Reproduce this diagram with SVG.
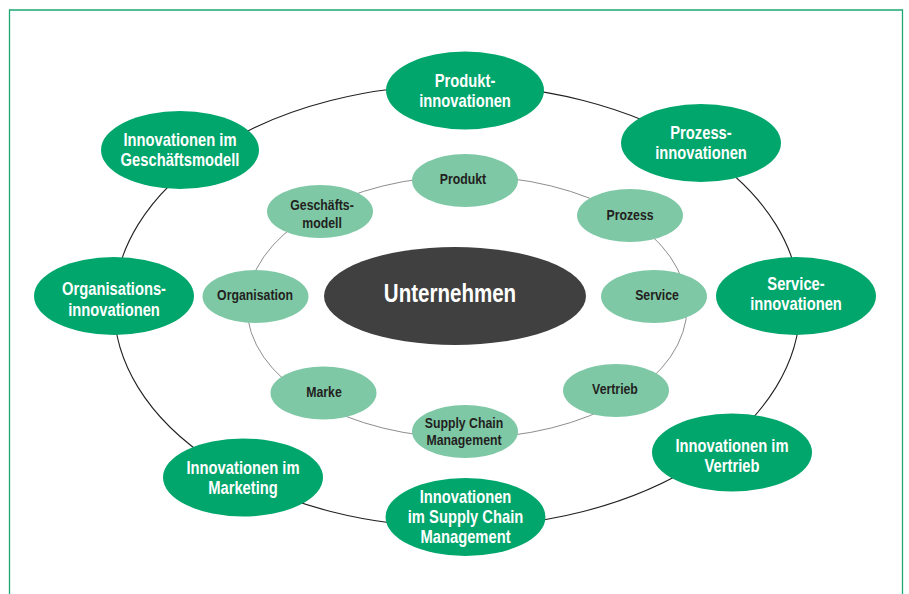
<svg xmlns="http://www.w3.org/2000/svg" width="909" height="594" viewBox="0 0 909 594">
  <style>
    .frame { fill: none; stroke: #1ea872; stroke-width: 1.3; }
    .ring-outer { fill: none; stroke: #231f20; stroke-width: 1.1; }
    .ring-inner { fill: none; stroke: #8e8e8e; stroke-width: 1; }
    .outer { fill: #00a66c; }
    .inner { fill: #7ec8a6; }
    .core { fill: #404040; }
    text { font-family: "Liberation Sans", Arial, sans-serif; font-weight: bold; text-anchor: middle; }
    .t-outer { fill: #ffffff; font-size: 18px; }
    .t-inner { fill: #231f20; font-size: 15px; }
    .t-core { fill: #ffffff; font-size: 26px; }
  </style>

  <!-- frame, open at the bottom -->
  <path class="frame" d="M9.5 594 V10 H902.5 V594"/>

  <!-- rings linking the nodes -->
  <g id="connectors">
    <ellipse class="ring-outer" cx="457" cy="306" rx="343" ry="221"/>
    <ellipse class="ring-inner" cx="467" cy="307" rx="220" ry="131"/>
  </g>

  <!-- centre; labels use a horizontally condensed bold face -->
  <g id="unternehmen">
    <ellipse class="core" cx="455" cy="296" rx="131" ry="49"/>
    <text class="t-core" transform="translate(450,302) scale(0.79,1)">Unternehmen</text>
  </g>

  <!-- inner ring -->
  <g id="produkt">
    <ellipse class="inner" cx="465" cy="180.5" rx="53" ry="26.5"/>
    <text class="t-inner" transform="translate(463,184) scale(0.82,1)">Produkt</text>
  </g>
  <g id="prozess">
    <ellipse class="inner" cx="630" cy="215.5" rx="53" ry="26.5"/>
    <text class="t-inner" transform="translate(630,220) scale(0.82,1)">Prozess</text>
  </g>
  <g id="service">
    <ellipse class="inner" cx="654" cy="296.5" rx="53" ry="26.5"/>
    <text class="t-inner" transform="translate(657,300) scale(0.82,1)">Service</text>
  </g>
  <g id="vertrieb">
    <ellipse class="inner" cx="616" cy="390.5" rx="53" ry="26.5"/>
    <text class="t-inner" transform="translate(615,393.5) scale(0.82,1)">Vertrieb</text>
  </g>
  <g id="supply-chain">
    <ellipse class="inner" cx="465" cy="431.5" rx="53" ry="26.5"/>
    <text class="t-inner" transform="translate(464,427.5) scale(0.82,1)">Supply Chain</text>
    <text class="t-inner" transform="translate(464,445) scale(0.82,1)">Management</text>
  </g>
  <g id="marke">
    <ellipse class="inner" cx="323.5" cy="393" rx="53" ry="26.5"/>
    <text class="t-inner" transform="translate(324,396.5) scale(0.82,1)">Marke</text>
  </g>
  <g id="organisation">
    <ellipse class="inner" cx="255.5" cy="296.5" rx="53" ry="26.5"/>
    <text class="t-inner" transform="translate(255,300) scale(0.82,1)">Organisation</text>
  </g>
  <g id="geschaeftsmodell">
    <ellipse class="inner" cx="320" cy="211.5" rx="53" ry="26.5"/>
    <text class="t-inner" transform="translate(322,210.3) scale(0.82,1)">Geschäfts-</text>
    <text class="t-inner" transform="translate(322,228) scale(0.82,1)">modell</text>
  </g>

  <!-- outer ring -->
  <g id="produktinnovationen">
    <ellipse class="outer" cx="465" cy="90.5" rx="79" ry="39"/>
    <text class="t-outer" transform="translate(465,87.3) scale(0.82,1)">Produkt-</text>
    <text class="t-outer" transform="translate(465,106.7) scale(0.82,1)">innovationen</text>
  </g>
  <g id="prozessinnovationen">
    <ellipse class="outer" cx="701" cy="143" rx="80" ry="39"/>
    <text class="t-outer" transform="translate(701,139.3) scale(0.82,1)">Prozess-</text>
    <text class="t-outer" transform="translate(701,159) scale(0.82,1)">innovationen</text>
  </g>
  <g id="serviceinnovationen">
    <ellipse class="outer" cx="796" cy="296" rx="80" ry="39"/>
    <text class="t-outer" transform="translate(796,290) scale(0.82,1)">Service-</text>
    <text class="t-outer" transform="translate(796,310) scale(0.82,1)">innovationen</text>
  </g>
  <g id="innovationen-vertrieb">
    <ellipse class="outer" cx="732" cy="452.5" rx="80" ry="39"/>
    <text class="t-outer" transform="translate(732,451.7) scale(0.82,1)">Innovationen im</text>
    <text class="t-outer" transform="translate(732,471.7) scale(0.82,1)">Vertrieb</text>
  </g>
  <g id="innovationen-supply-chain">
    <ellipse class="outer" cx="465.5" cy="517" rx="80" ry="39"/>
    <text class="t-outer" transform="translate(465.5,503.3) scale(0.82,1)">Innovationen</text>
    <text class="t-outer" transform="translate(465.5,523.3) scale(0.82,1)">im Supply Chain</text>
    <text class="t-outer" transform="translate(465.5,542.7) scale(0.82,1)">Management</text>
  </g>
  <g id="innovationen-marketing">
    <ellipse class="outer" cx="243" cy="477.5" rx="80" ry="39"/>
    <text class="t-outer" transform="translate(243,474.3) scale(0.82,1)">Innovationen im</text>
    <text class="t-outer" transform="translate(243,494) scale(0.82,1)">Marketing</text>
  </g>
  <g id="organisationsinnovationen">
    <ellipse class="outer" cx="114" cy="296" rx="80" ry="39"/>
    <text class="t-outer" transform="translate(114,295) scale(0.82,1)">Organisations-</text>
    <text class="t-outer" transform="translate(114,315.7) scale(0.82,1)">innovationen</text>
  </g>
  <g id="innovationen-geschaeftsmodell">
    <ellipse class="outer" cx="180" cy="150" rx="79" ry="39"/>
    <text class="t-outer" transform="translate(180,145.7) scale(0.82,1)">Innovationen im</text>
    <text class="t-outer" transform="translate(180,165.7) scale(0.82,1)">Geschäftsmodell</text>
  </g>
</svg>
